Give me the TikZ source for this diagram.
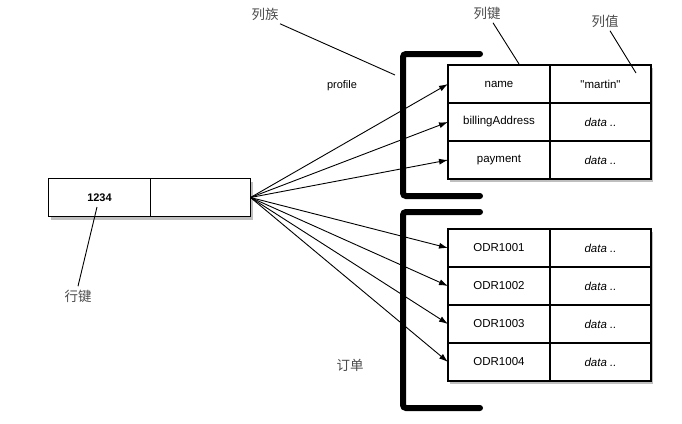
\documentclass[tikz,border=0pt]{standalone}
\usepackage{fontspec}
\setmainfont{Liberation Sans}
\newfontfamily\cjk{Noto Sans CJK SC}
\usetikzlibrary{positioning,arrows.meta,shadows}

\begin{document}
\begin{tikzpicture}[x=1pt,y=-1pt,
  cell/.style={draw,line width=1.2pt,minimum width=102pt,minimum height=38pt,
    inner sep=0pt,outer sep=0pt,fill=white,font=\fontsize{11.5}{13}\selectfont,
    drop shadow={shadow xshift=2pt,shadow yshift=-3pt,opacity=.5}},
  datacell/.style={cell,font=\itshape\fontsize{11.5}{13}\selectfont},
  note/.style={font=\cjk\fontsize{13.5}{15}\selectfont,text=black!70},
  link/.style={-{Latex[length=9pt,width=6pt]},line width=0.9pt},
  lead/.style={line width=0.9pt},
  brace/.style={line width=6pt,line cap=round,rounded corners=3pt}]
\useasboundingbox (0,0) rectangle (682,423);

% brackets of the two column families
\draw[brace] (480,54) -- (403,54) -- (403,196) -- (480,196);
\draw[brace] (480,212) -- (403,212) -- (403,408) -- (480,408);

% row key
\node[cell,font=\bfseries\fontsize{11}{13}\selectfont] (rowkey) at (99.5,197.5) {1234};
\node[cell,right=0pt of rowkey,minimum width=100pt] (rowval) {};

% profile family
\node[cell] (name) at (499,84) {name};
\node[cell,right=0pt of name,minimum width=101pt] (nameval) {\textquotedbl martin\textquotedbl};
\node[cell,below=0pt of name] (billing) {billingAddress};
\node[datacell,right=0pt of billing,minimum width=101pt] (billingval) {data ..};
\node[cell,below=0pt of billing] (payment) {payment};
\node[datacell,right=0pt of payment,minimum width=101pt] (paymentval) {data ..};

% orders family
\node[cell] (odr1) at (499,248) {ODR1001};
\node[datacell,right=0pt of odr1,minimum width=101pt] (odr1val) {data ..};
\node[cell,below=0pt of odr1] (odr2) {ODR1002};
\node[datacell,right=0pt of odr2,minimum width=101pt] (odr2val) {data ..};
\node[cell,below=0pt of odr2] (odr3) {ODR1003};
\node[datacell,right=0pt of odr3,minimum width=101pt] (odr3val) {data ..};
\node[cell,below=0pt of odr3] (odr4) {ODR1004};
\node[datacell,right=0pt of odr4,minimum width=101pt] (odr4val) {data ..};

\foreach \c in {name,billing,payment,odr1,odr2,odr3,odr4}
  \draw[link] (rowval.east) -- (\c.west);

% labels
\node[font=\fontsize{11}{13}\selectfont] (profile) at (342,86) {profile};
\node[note] (ordfam) at (350,365) {订单};

\node[note] (famlabel) at (265,14) {列族};
\coordinate (famtip) at (395,75);
\draw[lead] (famlabel.south east) ++(-2,0) -- (famtip);

\node[note] (keylabel) at (487,13) {列键};
\coordinate (keytip) at (519,64);
\draw[lead] (keylabel.south) ++(6,0) -- (keytip);

\node[note] (vallabel) at (605,21) {列值};
\coordinate (valtip) at (636,73);
\draw[lead] (vallabel.south) ++(5,0) -- (valtip);

\node[note] (rowlabel) at (78,296) {行键};
\coordinate (rowtip) at (97,207);
\draw[lead] (rowtip) -- (rowlabel.north);
\end{tikzpicture}
\end{document}
